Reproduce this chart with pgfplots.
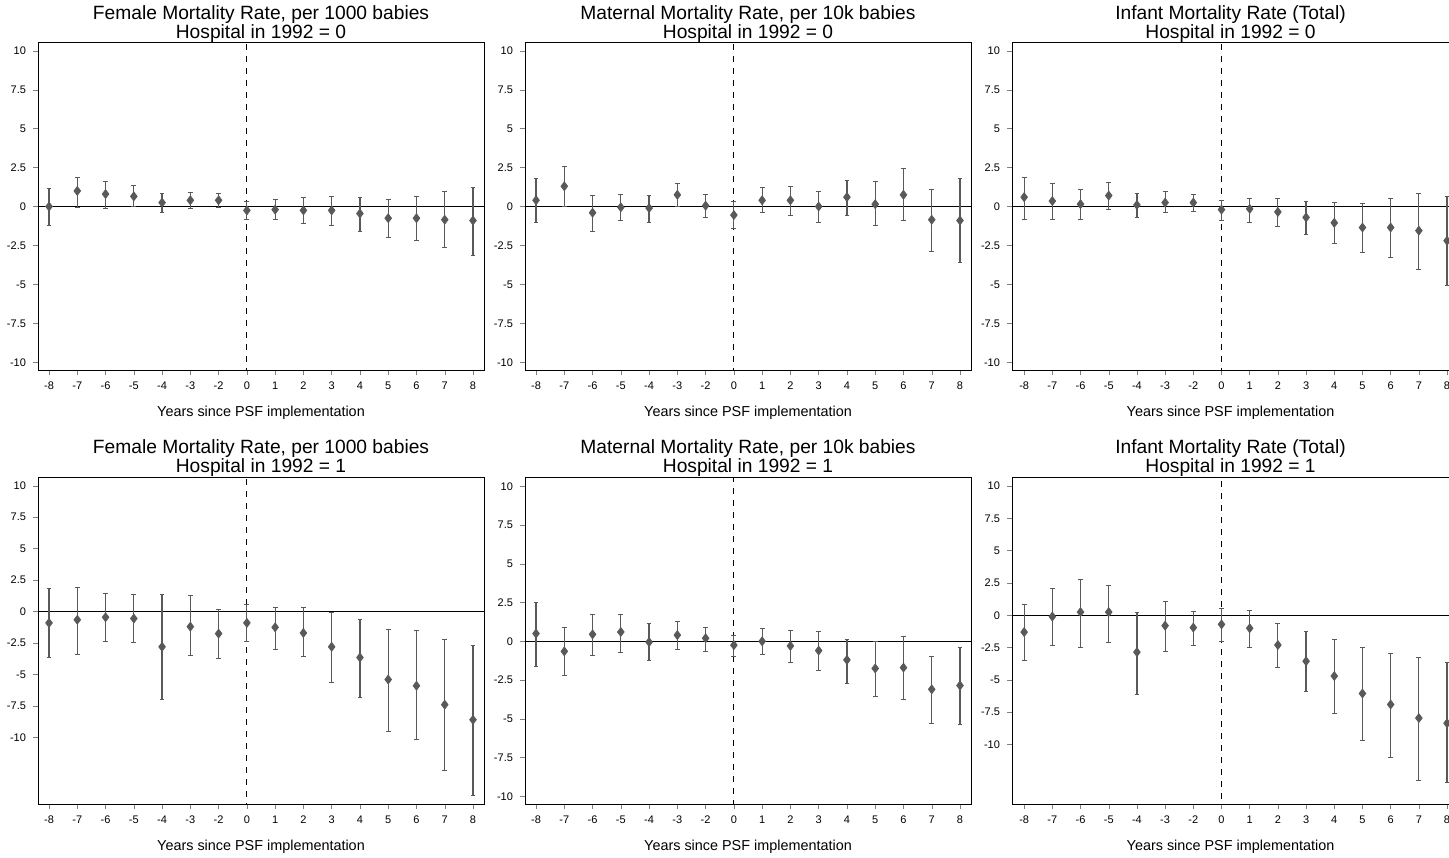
\documentclass[border=0pt]{standalone}
\usepackage{pgfplots}
\usepackage{pgfplotstable}
\pgfplotsset{compat=1.18}
\usepackage{fontspec}
\setmainfont{Liberation Sans}
% x = position index: -8..-2 -> 0..6, 0..8 -> 7..15
\pgfplotstableread{
x y hi lo
0 0 1.15 -1.2
1 1.0 1.9 -0.05
2 0.8 1.6 -0.1
3 0.65 1.35 0
4 0.25 0.85 -0.4
5 0.4 0.9 -0.1
6 0.4 0.85 -0.05
7 -0.25 0.3 -0.8
8 -0.2 0.45 -0.85
9 -0.25 0.6 -1.1
10 -0.25 0.65 -1.2
11 -0.45 0.6 -1.6
12 -0.75 0.45 -2.0
13 -0.75 0.65 -2.2
14 -0.85 0.95 -2.65
15 -0.9 1.2 -3.15
}\tA
\pgfplotstableread{
x y hi lo
0 0.4 1.8 -1.0
1 1.3 2.6 0.0
2 -0.4 0.7 -1.6
3 -0.05 0.8 -0.9
4 -0.1 0.7 -1.0
5 0.75 1.5 0.0
6 0.05 0.8 -0.7
7 -0.55 0.3 -1.4
8 0.4 1.2 -0.4
9 0.4 1.3 -0.6
10 0.0 1.0 -1.0
11 0.6 1.7 -0.6
12 0.15 1.6 -1.2
13 0.75 2.45 -0.9
14 -0.85 1.1 -2.9
15 -0.9 1.8 -3.6
}\tB
\pgfplotstableread{
x y hi lo
0 0.6 1.9 -0.8
1 0.35 1.5 -0.8
2 0.15 1.1 -0.8
3 0.7 1.55 -0.2
4 0.1 0.85 -0.7
5 0.25 0.95 -0.4
6 0.25 0.8 -0.3
7 -0.2 0.4 -0.9
8 -0.15 0.55 -1.0
9 -0.35 0.5 -1.3
10 -0.7 0.35 -1.8
11 -1.05 0.25 -2.4
12 -1.35 0.2 -2.95
13 -1.35 0.5 -3.3
14 -1.55 0.85 -4.05
15 -2.2 0.65 -5.05
}\tC
\pgfplotstableread{
x y hi lo
0 -0.9 1.85 -3.65
1 -0.65 1.9 -3.4
2 -0.45 1.45 -2.4
3 -0.55 1.35 -2.45
4 -2.8 1.35 -6.95
5 -1.2 1.25 -3.5
6 -1.75 0.15 -3.75
7 -0.9 0.55 -2.4
8 -1.25 0.3 -3.0
9 -1.7 0.3 -3.6
10 -2.8 -0.1 -5.6
11 -3.65 -0.65 -6.85
12 -5.4 -1.45 -9.5
13 -5.9 -1.5 -10.2
14 -7.4 -2.2 -12.65
15 -8.6 -2.65 -14.65
}\tD
\pgfplotstableread{
x y hi lo
0 0.5 2.5 -1.6
1 -0.65 0.9 -2.2
2 0.45 1.75 -0.9
3 0.6 1.75 -0.7
4 -0.05 1.15 -1.25
5 0.4 1.3 -0.5
6 0.2 0.9 -0.65
7 -0.25 0.4 -1.0
8 0.0 0.85 -0.85
9 -0.3 0.7 -1.35
10 -0.6 0.65 -1.9
11 -1.2 0.15 -2.7
12 -1.75 0 -3.55
13 -1.7 0.3 -3.75
14 -3.1 -0.95 -5.3
15 -2.85 -0.4 -5.35
}\tE
\pgfplotstableread{
x y hi lo
0 -1.3 0.85 -3.5
1 -0.1 2.1 -2.3
2 0.25 2.8 -2.5
3 0.25 2.3 -2.1
4 -2.85 0.25 -6.1
5 -0.8 1.1 -2.8
6 -0.95 0.3 -2.3
7 -0.7 0.55 -2.0
8 -1.0 0.4 -2.5
9 -2.3 -0.6 -4.05
10 -3.55 -1.25 -5.9
11 -4.7 -1.85 -7.6
12 -6.05 -2.5 -9.7
13 -6.9 -2.95 -11.0
14 -7.95 -3.25 -12.8
15 -8.35 -3.65 -12.95
}\tF
\pgfplotsset{
  panel/.style={scale only axis, width=223pt, height=163.5pt,
    xmin=-0.39, xmax=15.39, anchor=north west,
    xtick={0,...,15},
    xticklabels={-8,-7,-6,-5,-4,-3,-2,0,1,2,3,4,5,6,7,8},
    ytick={-10,-7.5,-5,-2.5,0,2.5,5,7.5,10},
    yticklabels={-10,-7.5,-5,-2.5,0,2.5,5,7.5,10},
    xtick pos=bottom, ytick pos=left, tick align=outside,
    major tick length=2.5pt,
    tick label style={font=\fontsize{5.5}{6}\selectfont},
    /pgf/number format/assume math mode=true,
    xlabel={Years since PSF implementation},
    xlabel style={font=\fontsize{7.2}{8}\selectfont, yshift=-1pt},
    title style={font=\fontsize{9.6}{8.4}\selectfont, align=center, yshift=-9.5pt},
    axis line style={line width=0.5pt},
  },
  top/.style={ymin=-10.5, ymax=10.5},
  third/.style={width=218.5pt, xmin=-0.43, xmax=15.07},
}
\newcommand{\series}[1]{%
  \addplot[black, line width=0.4pt, forget plot] coordinates {(-20,0) (40,0)};
  \addplot[black, dashed, line width=0.5pt, forget plot] coordinates {(7,-30) (7,30)};
  \addplot[only marks, mark=diamond*, mark size=2.2pt, color=black!65,
    error bars/.cd, y dir=both, y explicit,
    error bar style={black!65, line width=0.6pt}, error mark options={rotate=90, mark size=1.2pt, black!65}]
    table[x=x, y=y, y error plus expr=\thisrow{hi}-\thisrow{y}, y error minus expr=\thisrow{y}-\thisrow{lo}] {#1};
}
\begin{document}
\begin{tikzpicture}
\useasboundingbox (0,0) rectangle (724.5pt,-428.5pt);
\begin{axis}[panel, top, at={(19pt,-21.5pt)}, title={Female Mortality Rate, per 1000 babies\\Hospital in 1992 = 0}]
\series{\tA}
\end{axis}
\begin{axis}[panel, top, at={(262.5pt,-21.5pt)}, title={Maternal Mortality Rate, per 10k babies\\Hospital in 1992 = 0}]
\series{\tB}
\end{axis}
\begin{axis}[panel, top, third, at={(506pt,-21.5pt)}, title={Infant Mortality Rate (Total)\\Hospital in 1992 = 0}]
\series{\tC}
\end{axis}
\begin{axis}[panel, ymin=-15.3, ymax=10.7, at={(19pt,-238.5pt)}, title={Female Mortality Rate, per 1000 babies\\Hospital in 1992 = 1}]
\series{\tD}
\end{axis}
\begin{axis}[panel, ymin=-10.5, ymax=10.6, at={(262.5pt,-238.5pt)}, title={Maternal Mortality Rate, per 10k babies\\Hospital in 1992 = 1}]
\series{\tE}
\end{axis}
\begin{axis}[panel, third, ymin=-14.6, ymax=10.7, at={(506pt,-238.5pt)}, title={Infant Mortality Rate (Total)\\Hospital in 1992 = 1}]
\series{\tF}
\end{axis}
\end{tikzpicture}
\end{document}
